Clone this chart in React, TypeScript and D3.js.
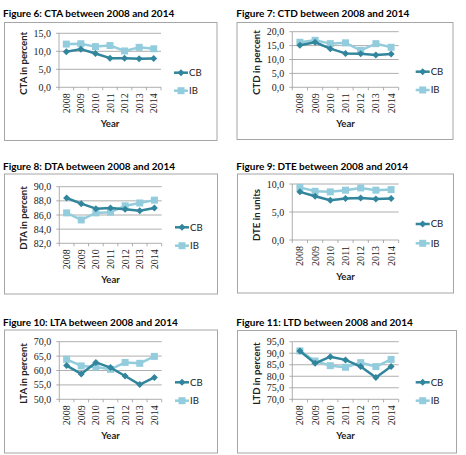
import React from 'react';
import * as d3 from 'd3';

// Categories shared by all six panels
const years = ['2008', '2009', '2010', '2011', '2012', '2013', '2014'];
const seriesNames = ['CB', 'IB'];

// Figure 6: CTA (percent)
const ctaCB = [9.9, 10.6, 9.4, 8.1, 8.1, 7.9, 8.0];
const ctaIB = [12.0, 12.1, 11.3, 11.6, 10.1, 11.1, 10.7];
const ctaTicks = [0, 5, 10, 15];

// Figure 7: CTD (percent)
const ctdCB = [15.1, 16.2, 13.9, 12.2, 12.1, 11.6, 12.0];
const ctdIB = [16.2, 16.9, 15.7, 16.0, 13.3, 15.7, 14.4];
const ctdTicks = [0, 5, 10, 15, 20];

// Figure 8: DTA (percent)
const dtaCB = [88.4, 87.6, 86.9, 87.0, 86.8, 86.6, 87.0];
const dtaIB = [86.3, 85.3, 86.3, 86.4, 87.3, 87.7, 88.1];
const dtaTicks = [82, 84, 86, 88, 90];

// Figure 9: DTE (units)
const dteCB = [8.6, 7.8, 7.1, 7.4, 7.5, 7.3, 7.4];
const dteIB = [9.4, 8.7, 8.6, 8.9, 9.3, 8.9, 9.0];
const dteTicks = [0, 5, 10];

// Figure 10: LTA (percent)
const ltaCB = [61.7, 58.8, 62.8, 61.0, 58.1, 55.1, 57.6];
const ltaIB = [63.9, 61.6, 61.2, 60.4, 62.8, 62.5, 64.9];
const ltaTicks = [50, 55, 60, 65, 70];

// Figure 11: LTD (percent)
const ltdCB = [91.0, 85.6, 88.5, 87.1, 84.2, 79.5, 84.2];
const ltdIB = [91.0, 86.6, 84.6, 83.9, 85.9, 84.2, 87.3];
const ltdTicks = [70, 75, 80, 85, 90, 95];

const titles = [
  'Figure 6: CTA between 2008 and 2014',
  'Figure 7: CTD between 2008 and 2014',
  'Figure 8: DTA between 2008 and 2014',
  'Figure 9: DTE between 2008 and 2014',
  'Figure 10: LTA between 2008 and 2014',
  'Figure 11: LTD between 2008 and 2014',
];
const yTitles = [
  'CTA in percent',
  'CTD in percent',
  'DTA in percent',
  'DTE in units',
  'LTA in percent',
  'LTD in percent',
];
const xTitle = 'Year';

const CB_COLOR = '#31859c';
const IB_COLOR = '#93cddd';
const GRID = '#9a9a9a';
const SANS = 'Lato, "Open Sans", sans-serif';
const SERIF = '"Liberation Serif", "DejaVu Serif", serif';

type Layout = {
  titleX: number;
  titleY: number;
  box: [number, number, number, number];
  plot: { l: number; r: number; t: number; b: number };
  yTitleX: number;
  legendX: number;
  legendY: [number, number];
};

const layouts: Layout[] = [
  { titleX: 3, titleY: 17, box: [4.5, 22.5, 212.5, 118], plot: { l: 59, r: 161, t: 33.3, b: 87.3 }, yTitleX: 23.3, legendX: 174, legendY: [72.7, 90.7] },
  { titleX: 236.3, titleY: 17, box: [237, 22.5, 216, 117], plot: { l: 292.3, r: 398.7, t: 31.7, b: 87.3 }, yTitleX: 256.3, legendX: 415.7, legendY: [71.7, 90] },
  { titleX: 3, titleY: 170, box: [4.5, 174, 213, 120], plot: { l: 59.3, r: 161.7, t: 186.7, b: 243.3 }, yTitleX: 23.3, legendX: 175, legendY: [227.3, 245.7] },
  { titleX: 236.3, titleY: 170, box: [237.5, 174, 216, 119], plot: { l: 292.3, r: 398.7, t: 184, b: 240 }, yTitleX: 256.3, legendX: 415.7, legendY: [224, 243.3] },
  { titleX: 3, titleY: 326, box: [4.5, 330, 213, 123], plot: { l: 59.3, r: 161.7, t: 341.7, b: 399.3 }, yTitleX: 23.3, legendX: 175, legendY: [382.3, 400.7] },
  { titleX: 236.3, titleY: 326, box: [237.5, 330.5, 219, 122.5], plot: { l: 292.3, r: 398.7, t: 341.7, b: 399.3 }, yTitleX: 256.3, legendX: 415.7, legendY: [382.3, 400.7] },
];

const panelSeries = [
  { cb: ctaCB, ib: ctaIB, ticks: ctaTicks },
  { cb: ctdCB, ib: ctdIB, ticks: ctdTicks },
  { cb: dtaCB, ib: dtaIB, ticks: dtaTicks },
  { cb: dteCB, ib: dteIB, ticks: dteTicks },
  { cb: ltaCB, ib: ltaIB, ticks: ltaTicks },
  { cb: ltdCB, ib: ltdIB, ticks: ltdTicks },
];

const fmt = (v: number) => v.toFixed(1).replace('.', ',');

function Diamond({ x, y, r = 3.5 }: { x: number; y: number; r?: number }) {
  return <path d={`M${x},${y - r}L${x + r},${y}L${x},${y + r}L${x - r},${y}Z`} fill={CB_COLOR} />;
}

function Square({ x, y, s = 7 }: { x: number; y: number; s?: number }) {
  return <rect x={x - s / 2} y={y - s / 2} width={s} height={s} fill={IB_COLOR} />;
}

function Panel({ idx }: { idx: number }) {
  const L = layouts[idx];
  const S = panelSeries[idx];
  const { l, r, t, b } = L.plot;

  const x = d3.scaleBand<string>().domain(years).range([l, r]).padding(0);
  const cx = (d: string) => (x(d) as number) + x.bandwidth() / 2;
  const y = d3
    .scaleLinear()
    .domain([d3.min(S.ticks) as number, d3.max(S.ticks) as number])
    .range([b, t]);

  const line = d3
    .line<number>()
    .x((_, i) => cx(years[i]))
    .y((v) => y(v));

  const boundaries = d3.range(years.length + 1).map((i) => l + i * x.bandwidth());
  const [bx, by, bw, bh] = L.box;

  return (
    <g>
      <text x={L.titleX} y={L.titleY} fontFamily={SANS} fontWeight={700} fontSize={10} fill="#000">
        {titles[idx]}
      </text>
      <rect x={bx} y={by} width={bw} height={bh} fill="#fff" stroke="#a6a6a6" strokeWidth={1} />

      {/* horizontal gridlines and y tick labels */}
      {S.ticks.map((tv) => (
        <g key={tv}>
          <line x1={l} x2={r} y1={y(tv)} y2={y(tv)} stroke={GRID} strokeWidth={0.8} />
          <line x1={l - 3} x2={l} y1={y(tv)} y2={y(tv)} stroke={GRID} strokeWidth={0.8} />
          <text x={l - 8} y={y(tv)} dy="0.35em" textAnchor="end" fontFamily={SERIF} fontSize={10} fill="#222">
            {fmt(tv)}
          </text>
        </g>
      ))}
      {/* axes */}
      <line x1={l} x2={l} y1={t} y2={b} stroke={GRID} strokeWidth={0.8} />
      {boundaries.map((bxv, i) => (
        <line key={i} x1={bxv} x2={bxv} y1={b} y2={b + 3} stroke={GRID} strokeWidth={0.8} />
      ))}
      {years.map((yr) => (
        <text
          key={yr}
          transform={`translate(${cx(yr)},${b + 6}) rotate(-90)`}
          dy="0.35em"
          textAnchor="end"
          fontFamily={SERIF}
          fontSize={10}
          fill="#222"
        >
          {yr}
        </text>
      ))}
      <text x={(l + r) / 2} y={b + 40} textAnchor="middle" fontFamily={SANS} fontWeight={700} fontSize={9.6} fill="#222">
        {xTitle}
      </text>
      <text
        transform={`translate(${L.yTitleX},${(t + b) / 2 + 3}) rotate(-90)`}
        dy="0.35em"
        textAnchor="middle"
        fontFamily={SANS}
        fontWeight={700}
        fontSize={9.6}
        fill="#222"
      >
        {yTitles[idx]}
      </text>

      {/* series */}
      <path d={line(S.ib) || ''} fill="none" stroke={IB_COLOR} strokeWidth={2.5} strokeLinejoin="round" />
      {S.ib.map((v, i) => (
        <Square key={`ib${i}`} x={cx(years[i])} y={y(v)} />
      ))}
      <path d={line(S.cb) || ''} fill="none" stroke={CB_COLOR} strokeWidth={2.5} strokeLinejoin="round" />
      {S.cb.map((v, i) => (
        <Diamond key={`cb${i}`} x={cx(years[i])} y={y(v)} />
      ))}

      {/* legend */}
      {seriesNames.map((name, i) => {
        const ly = L.legendY[i];
        const color = i === 0 ? CB_COLOR : IB_COLOR;
        return (
          <g key={name}>
            <line x1={L.legendX} x2={L.legendX + 14} y1={ly} y2={ly} stroke={color} strokeWidth={2.5} />
            {i === 0 ? <Diamond x={L.legendX + 7} y={ly} /> : <Square x={L.legendX + 7} y={ly} />}
            <text x={L.legendX + 15} y={ly} dy="0.35em" fontFamily={SANS} fontSize={9.6} fill="#222">
              {name}
            </text>
          </g>
        );
      })}
    </g>
  );
}

export default function App() {
  return (
    <svg
      width={466}
      height={455}
      viewBox="0 0 466 455"
      style={{ position: 'absolute', left: 0, top: 0, background: '#fff' }}
    >
      <rect width={466} height={455} fill="#fff" />
      {layouts.map((_, i) => (
        <Panel key={i} idx={i} />
      ))}
    </svg>
  );
}
